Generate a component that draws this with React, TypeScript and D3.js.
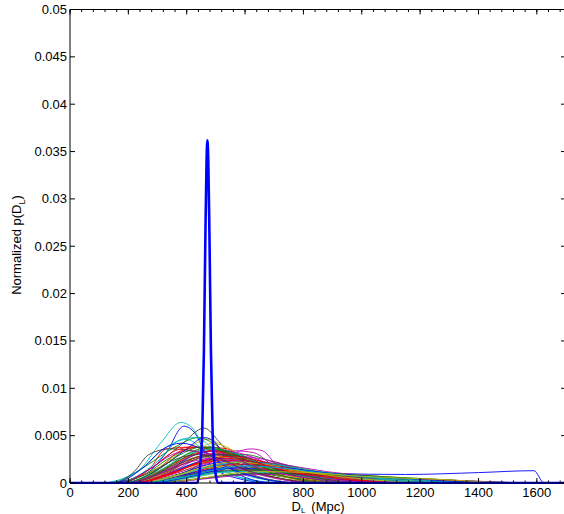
import React from "react";
import * as d3 from "d3";

// Posterior luminosity-distance curves: each is a list of [D_L (Mpc), p × 1e-3] knots
const Y_UNIT = 1e-3;

const curves: [number, number][][] = [
  [[120,0],[250,0.8],[330,3.2],[390,6.0],[430,5.2],[480,2.0],[560,0.6],[700,0]],
  [[150,0],[260,1.0],[350,2.8],[440,3.8],[520,3.0],[620,1.4],[800,0.4],[1000,0]],
  [[160,0],[270,1.4],[330,3.6],[420,3.8],[520,3.2],[600,2.0],[750,0.6],[950,0]],
  [[100,0],[230,1.2],[310,4.2],[380,6.4],[420,5.8],[470,3.0],[560,0.8],[700,0]],
  [[180,0],[330,0.8],[450,2.4],[560,3.4],[630,3.2],[700,1.8],[850,0.8],[1100,0]],
  [[160,0],[300,1.6],[400,3.6],[470,4.6],[540,3.6],[620,1.6],[760,0.3],[900,0]],
  [[150,0],[280,1.6],[380,4.0],[460,5.8],[510,4.4],[580,1.8],[680,0.4],[800,0]],
  [[200,0],[350,0.6],[500,1.2],[700,1.3],[900,1.0],[1150,0.9],[1400,1.1],[1590,1.3],[1625,0]],
  [[140,0],[260,1.8],[360,3.8],[440,4.8],[500,4.0],[580,2.0],[700,0.6],[850,0]],
  [[200,0],[320,1.0],[420,2.6],[500,3.0],[600,2.2],[750,1.0],[950,0.3],[1200,0]],
  [[120,0],[240,1.4],[330,3.8],[400,4.6],[460,3.4],[540,1.2],[650,0.2],[750,0]],
  [[220,0],[380,1.0],[520,2.6],[620,3.6],[660,3.4],[720,1.6],[900,0.6],[1200,0]],
  [[180,0],[320,1.2],[440,2.8],[540,3.0],[640,2.0],[800,1.0],[1000,0.4],[1300,0]],
  [[140,0],[220,1.2],[270,3.0],[340,3.6],[420,3.4],[500,2.4],[620,0.8],[800,0]],
  [[200,0],[330,1.2],[430,3.0],[500,3.4],[560,2.6],[680,1.0],[850,0.3],[1000,0]],
  [[180,0],[320,1.0],[450,2.2],[560,2.6],[700,2.0],[850,1.2],[1100,0.6],[1450,0]],
  [[200,0],[300,1.4],[380,3.4],[460,3.8],[540,3.6],[600,2.4],[720,0.8],[900,0]],
  [[160,0],[290,2.0],[380,4.6],[430,4.8],[490,3.6],[560,1.4],[680,0.3],[800,0]],
  [[220,0],[360,0.8],[480,1.8],[600,2.4],[720,2.0],[880,1.2],[1100,0.6],[1400,0]],
  [[200,0],[340,1.4],[430,3.4],[490,4.2],[550,3.6],[640,1.6],[780,0.4],[950,0]],
  [[210,0],[350,1.0],[470,2.4],[560,2.6],[680,1.8],[820,1.0],[1000,0.4],[1300,0]],
  [[180,0],[300,1.4],[400,3.6],[460,4.8],[500,4.2],[540,2.0],[600,0.6],[700,0]],
  [[230,0],[380,1.0],[500,2.6],[600,3.0],[700,2.2],[850,1.2],[1050,0.5],[1400,0]],
  [[220,0],[340,1.2],[440,2.8],[520,3.2],[600,2.6],[700,1.4],[850,0.5],[1050,0]],
  [[200,0],[340,1.0],[440,2.2],[540,2.4],[650,1.6],[800,0.8],[1000,0.3],[1200,0]],
  [[240,0],[380,0.8],[500,1.8],[580,2.2],[660,2.0],[780,1.2],[1000,0.5],[1300,0]],
  [[250,0],[380,0.8],[500,1.6],[620,2.0],[760,1.6],[900,1.0],[1150,0.5],[1500,0]],
  [[240,0],[380,0.6],[500,1.4],[620,1.6],[760,1.3],[950,0.8],[1200,0.4],[1500,0]],
  [[260,0],[400,0.6],[520,1.6],[620,2.0],[740,1.6],[900,0.9],[1150,0.4],[1500,0]],
  [[200,0],[300,1.0],[400,2.6],[480,3.4],[560,3.2],[660,2.0],[800,0.8],[1000,0]],
  [[170,0],[280,1.6],[360,3.4],[420,3.8],[480,3.4],[560,2.0],[700,0.6],[850,0]],
  [[250,0],[400,1.0],[520,2.0],[600,2.2],[700,1.6],[850,0.8],[1050,0.3],[1300,0]],
  [[210,0],[350,1.2],[460,2.8],[540,3.0],[620,2.6],[740,1.4],[900,0.5],[1100,0]],
  [[220,0],[360,1.0],[470,2.2],[560,2.6],[660,2.2],[800,1.2],[1000,0.5],[1300,0]],
  [[260,0],[400,0.8],[520,1.8],[610,2.2],[700,2.0],[820,1.2],[1000,0.5],[1300,0]],
  [[230,0],[360,0.8],[480,2.0],[580,2.4],[680,2.0],[820,1.2],[1000,0.6],[1350,0]],
  [[190,0],[300,1.2],[400,2.8],[470,3.6],[540,3.4],[620,2.2],[760,0.8],[950,0]],
  [[240,0],[380,0.8],[480,1.6],[580,2.0],[700,1.8],[860,1.0],[1100,0.4],[1400,0]],
  [[180,0],[300,1.2],[400,3.0],[500,3.6],[580,3.0],[680,1.6],[820,0.5],[1000,0]],
  [[200,0],[330,1.4],[430,3.0],[520,3.4],[600,3.0],[700,1.8],[850,0.7],[1050,0]],
  [[270,0],[420,0.6],[540,1.2],[660,1.4],[800,1.2],[1000,0.8],[1250,0.4],[1550,0]],
  [[200,0],[320,1.2],[420,2.6],[500,3.0],[580,2.6],[680,1.4],[820,0.5],[1000,0]],
  [[250,0],[380,0.8],[480,1.4],[560,1.6],[660,1.4],[800,0.8],[1000,0.3],[1300,0]],
  [[260,0],[400,0.6],[520,1.2],[640,1.4],[800,1.2],[1000,0.8],[1250,0.4],[1550,0]],
  [[190,0],[320,1.4],[420,3.0],[490,3.4],[560,3.0],[640,1.8],[780,0.6],[950,0]],
  [[280,0],[420,0.6],[540,1.2],[640,1.2],[760,1.0],[920,0.6],[1150,0.3],[1450,0]],
  [[220,0],[360,1.0],[480,2.2],[580,2.8],[680,2.4],[800,1.4],[950,0.6],[1200,0]],
  [[230,0],[360,0.8],[460,1.6],[560,1.8],[680,1.6],[840,1.0],[1050,0.5],[1400,0]],
  [[240,0],[380,0.6],[480,1.2],[580,1.4],[700,1.3],[880,0.9],[1100,0.5],[1450,0]],
  [[220,0],[340,1.0],[440,2.2],[520,2.6],[600,2.4],[720,1.4],[880,0.6],[1100,0]],
  [[300,0],[440,0.4],[560,0.9],[700,1.0],[860,0.9],[1050,0.6],[1300,0.3],[1600,0]],
  [[210,0],[340,1.0],[440,2.0],[540,2.4],[640,2.0],[760,1.2],[920,0.5],[1150,0]],
  [[260,0],[380,0.6],[480,1.0],[580,1.2],[700,1.0],[860,0.6],[1050,0.3],[1300,0]],
  [[300,0],[450,0.4],[580,0.8],[700,0.9],[860,0.8],[1050,0.5],[1300,0.3],[1600,0]],
  [[200,0],[320,1.0],[420,2.4],[500,2.8],[580,2.4],[680,1.2],[820,0.4],[980,0]],
  [[280,0],[420,0.4],[540,0.8],[660,1.0],[800,0.9],[980,0.6],[1200,0.3],[1500,0]],
  [[150,0],[250,1.6],[320,3.6],[380,4.2],[450,3.6],[520,2.0],[640,0.6],[780,0]],
  [[190,0],[310,1.2],[410,3.2],[480,3.8],[550,3.2],[650,1.8],[800,0.6],[980,0]],
  [[210,0],[350,1.0],[460,2.4],[550,2.8],[640,2.4],[760,1.4],[920,0.6],[1150,0]],
  [[240,0],[370,0.8],[490,1.8],[590,2.2],[690,2.0],[830,1.3],[1020,0.6],[1350,0]],
  [[170,0],[270,1.4],[350,3.0],[410,3.4],[480,3.0],[560,1.8],[700,0.5],[860,0]],
  [[230,0],[370,0.8],[470,1.8],[560,2.2],[660,2.0],[800,1.2],[980,0.5],[1250,0]],
  [[200,0],[330,1.2],[440,2.6],[520,3.0],[590,2.8],[690,1.6],[840,0.6],[1020,0]],
  [[260,0],[400,0.6],[510,1.4],[610,1.8],[730,1.6],[900,1.0],[1120,0.5],[1450,0]],
  [[180,0],[300,1.4],[390,3.2],[450,3.8],[520,3.4],[610,2.0],[750,0.6],[920,0]],
  [[220,0],[350,1.0],[450,2.2],[540,2.6],[630,2.2],[750,1.2],[910,0.5],[1120,0]],
  [[250,0],[390,0.6],[500,1.4],[600,1.8],[720,1.6],[880,1.0],[1100,0.5],[1420,0]],
  [[190,0],[310,1.0],[410,2.2],[490,2.6],[570,2.4],[670,1.4],[820,0.5],[1000,0]],
  [[280,0],[430,0.4],[550,1.0],[670,1.2],[820,1.1],[1000,0.7],[1250,0.4],[1550,0]],
  [[160,0],[280,1.2],[370,2.6],[440,3.0],[510,2.6],[600,1.4],[740,0.4],[900,0]],
];

// Combined (narrow) posterior, in absolute units
const combined: [number, number][] = [
  [435,0],[445,0.0015],[453,0.005],[459,0.014],[464,0.026],[468,0.034],[471,0.0362],
  [474,0.034],[478,0.026],[483,0.014],[489,0.005],[497,0.0015],[507,0],
];

const lineColors = ["#0000ff", "#008000", "#ff0000", "#00bfbf", "#bf00bf", "#bfbf00", "#404040"];

const xMajorTicks = d3.range(0, 1601, 200);
const xMinorTicks = d3.range(0, 1701, 40);
const yTicks = d3.range(0, 0.0501, 0.005);

const W = 564;
const H = 514;
const left = 70;
const right = 566;
const top = 9.5;
const bottom = 483;

export default function App() {
  const x = d3.scaleLinear().domain([0, 1700]).range([left, right]);
  const y = d3.scaleLinear().domain([0, 0.05]).range([bottom, top]);
  const line = d3
    .line<[number, number]>()
    .x((d) => x(d[0]))
    .y((d) => y(d[1]))
    .curve(d3.curveMonotoneX);

  const padCurve = (pts: [number, number][]): [number, number][] => [
    [0, 0],
    ...pts,
    [1700, 0],
  ];

  const font = "'Liberation Sans', Arial, Helvetica, sans-serif";
  const yFmt = (v: number) => (v === 0 ? "0" : String(+v.toFixed(3)));

  return (
    <svg
      width={W}
      height={H}
      style={{ position: "absolute", left: 0, top: 0, background: "#fff" }}
      fontFamily={font}
    >
      <defs>
        <clipPath id="plot-area">
          <rect x={left} y={top - 1} width={right - left} height={bottom - top + 2} />
        </clipPath>
      </defs>
      <rect width={W} height={H} fill="#fff" />

      <g clipPath="url(#plot-area)" fill="none">
        {curves.map((c, i) => (
          <path
            key={i}
            d={line(padCurve(c.map(([a, b]) => [a, b * Y_UNIT] as [number, number]))) || ""}
            stroke={lineColors[i % lineColors.length]}
            strokeWidth={0.9}
            strokeLinejoin="round"
          />
        ))}
        <path
          d={line(padCurve(combined)) || ""}
          stroke="#0000ff"
          strokeWidth={2.6}
          strokeLinejoin="round"
        />
      </g>

      {/* axes box */}
      <g stroke="#000" strokeWidth={1} fill="none">
        <line x1={left} x2={left} y1={top} y2={bottom} />
        <line x1={left} x2={right} y1={bottom} y2={bottom} />
        <line x1={left} x2={right} y1={top} y2={top} />
        <line x1={right} x2={right} y1={top} y2={bottom} />
      </g>

      {/* ticks */}
      <g stroke="#000" strokeWidth={1}>
        {xMinorTicks.map((t) => (
          <g key={"m" + t}>
            <line x1={x(t)} x2={x(t)} y1={bottom} y2={bottom - 2.5} />
            <line x1={x(t)} x2={x(t)} y1={top} y2={top + 2.5} />
          </g>
        ))}
        {xMajorTicks.map((t) => (
          <g key={"M" + t}>
            <line x1={x(t)} x2={x(t)} y1={bottom} y2={bottom - 5} />
            <line x1={x(t)} x2={x(t)} y1={top} y2={top + 5} />
          </g>
        ))}
        {yTicks.map((t) => (
          <g key={"y" + t}>
            <line x1={left} x2={left + 5} y1={y(t)} y2={y(t)} />
            <line x1={right} x2={right - 5} y1={y(t)} y2={y(t)} />
          </g>
        ))}
      </g>

      <g fontSize={13} fill="#000">
        {xMajorTicks.map((t) => (
          <text key={t} x={x(t)} y={bottom + 14} textAnchor="middle">
            {t}
          </text>
        ))}
        {yTicks.map((t) => (
          <text key={t} x={left - 3} y={y(t) + 4.5} textAnchor="end">
            {yFmt(t)}
          </text>
        ))}
      </g>

      <text x={291.5} y={511} fontSize={13} textAnchor="start" fill="#000">
        D
        <tspan fontSize={8} dy={2}>L</tspan>
        <tspan dy={-2} dx={6}>(Mpc)</tspan>
      </text>
      <text
        transform="translate(21,245) rotate(-90)"
        fontSize={13}
        textAnchor="middle"
        fill="#000"
      >
        Normalized p(D
        <tspan fontSize={9} dy={4}>L</tspan>
        <tspan dy={-4}>)</tspan>
      </text>
    </svg>
  );
}
